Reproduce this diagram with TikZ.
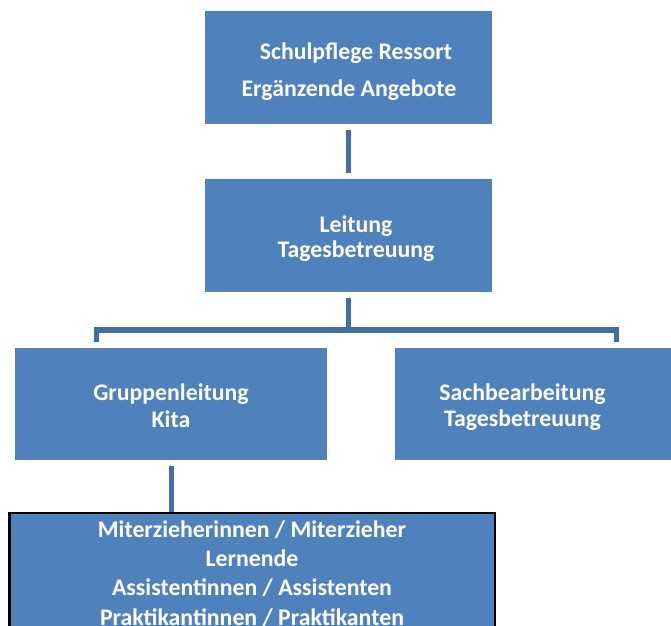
\documentclass[tikz,border=0pt]{standalone}
\usepackage{fontspec}
\setmainfont{Carlito}
\usetikzlibrary{positioning}
\definecolor{orgBlue}{RGB}{79,129,189}
\definecolor{orgLine}{RGB}{65,110,165}
\tikzset{
    orgbox/.style={rectangle, fill=orgBlue, draw=none, inner sep=0pt},
    orgtext/.style={font=\fontsize{23.8}{27.5}\selectfont\bfseries, text=white,
                    align=center, inner sep=0pt, anchor=base},
    link/.style={draw=orgLine, line width=5.5pt}
}
\begin{document}
\begin{tikzpicture}[x=1pt, y=-1pt]
  \useasboundingbox (0,0) rectangle (671,625);
  % Boxes
  \node[orgbox, minimum width=287pt, minimum height=113pt] (ressort) at (348.5,67.5) {};
  \node[orgbox, minimum width=287pt, minimum height=113pt] (leitung) at (348.5,235.5) {};
  \node[orgbox, minimum width=312pt, minimum height=112pt] (gruppe) at (171,404) {};
  \node[orgbox, minimum width=277pt, minimum height=112pt] (sach) at (533.5,404) {};
  \node[orgbox, draw=black, line width=2.5pt, minimum width=485.5pt,
        minimum height=147pt] (team) at (252,586.5) {};

  % Texts (placed at the baseline of the last line)
  \node[orgtext, font=\fontsize{23.8}{36.5}\selectfont\bfseries] (ressorttext) at (349,96)
       {\hspace*{14pt}Schulpflege Ressort\\Ergänzende Angebote};
  \node[orgtext, font=\fontsize{23.8}{25.5}\selectfont\bfseries] (leitungtext) at (356,257.5)
       {Leitung\\Tagesbetreuung};
  \node[orgtext] (gruppetext) at (171,427.7) {Gruppenleitung\\Kita};
  \node[orgtext, font=\fontsize{23.8}{26.5}\selectfont\bfseries] (sachtext) at (522.5,426.7)
       {Sachbearbeitung\\Tagesbetreuung};
  \node[orgtext, font=\fontsize{23.8}{29.3}\selectfont\bfseries] (teamtext) at (252,625.2)
       {Miterzieherinnen / Miterzieher\\Lernende\\Assistentinnen / Assistenten\\Praktikantinnen / Praktikanten};

  % Connectors
  \coordinate (fork) at (348.5,330);
  \coordinate (forkL) at (96.5,330);
  \coordinate (forkR) at (616.5,330);
  \draw[link, shorten <=5.5pt, shorten >=5.5pt] (ressort) -- (leitung);
  \draw[link, shorten <=5.7pt] (leitung) -- (fork);
  \draw[link, shorten <=6pt, shorten >=6pt] (forkL |- gruppe.north) -- (forkL) -- (forkR) -- (forkR |- sach.north);
  \draw[link, shorten <=6pt] ([xshift=0.5pt]gruppe.south) -- ([xshift=0.5pt]gruppe.south |- team.north);
\end{tikzpicture}
\end{document}
